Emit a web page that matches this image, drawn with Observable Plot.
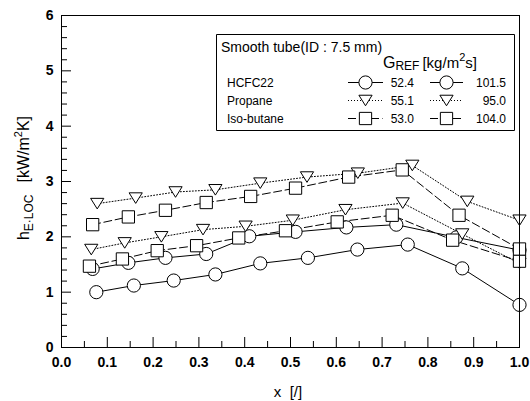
<!DOCTYPE html>
<html><head><meta charset="utf-8">
<script src="https://cdn.jsdelivr.net/npm/d3@7"></script>
<script src="https://cdn.jsdelivr.net/npm/@observablehq/plot@0.6"></script>
<style>
body{margin:0;background:#fff}
#chart{position:relative;width:530px;height:401px}
</style>
</head><body><div id="chart"></div>
<script>
// ---- data ----
const xR22_52  = [0.076,0.158,0.245,0.336,0.434,0.538,0.646,0.756,0.875,1.000];
const yR22_52  = [1.00,1.12,1.21,1.32,1.52,1.62,1.77,1.86,1.43,0.77];
const xR22_101 = [0.068,0.146,0.227,0.316,0.410,0.511,0.622,0.731,0.862,1.000];
const yR22_101 = [1.42,1.53,1.62,1.69,2.01,2.09,2.17,2.22,1.99,1.76];
const xC3_55   = [0.065,0.138,0.218,0.309,0.402,0.505,0.620,0.745,0.875,1.000];
const yC3_55   = [1.77,1.89,2.00,2.13,2.19,2.30,2.49,2.61,2.05,1.52];
const xC3_95   = [0.078,0.162,0.249,0.336,0.434,0.536,0.647,0.766,0.886,1.000];
const yC3_95   = [2.60,2.70,2.81,2.85,2.97,3.08,3.15,3.29,2.64,2.30];
const xIB_53   = [0.061,0.133,0.209,0.295,0.387,0.489,0.602,0.722,0.854,1.000];
const yIB_53   = [1.47,1.60,1.75,1.84,1.98,2.11,2.27,2.39,1.94,1.56];
const xIB_104  = [0.068,0.146,0.227,0.316,0.413,0.511,0.627,0.744,0.868,1.000];
const yIB_104  = [2.22,2.36,2.48,2.62,2.73,2.88,3.08,3.21,2.39,1.78];

const fluids = ["HCFC22","Propane","Iso-butane"];
const gLow  = ["52.4","55.1","53.0"];
const gHigh = ["101.5","95.0","104.0"];

const xTickLabels = [0,0.1,0.2,0.3,0.4,0.5,0.6,0.7,0.8,0.9,1.0];
const xMinor = [0.05,0.15,0.25,0.35,0.45,0.55,0.65,0.75,0.85,0.95];
const yTickLabels = [0,1,2,3,4,5,6];
const yMinor = [0.2,0.4,0.6,0.8,1.2,1.4,1.6,1.8,2.2,2.4,2.6,2.8,3.2,3.4,3.6,3.8,4.2,4.4,4.6,4.8,5.2,5.4,5.6,5.8];

// ---- symbols ----
const symCircle = {draw(ctx,size){const r=Math.sqrt(size/Math.PI); ctx.moveTo(r,0); ctx.arc(0,0,r,0,2*Math.PI);}};
const symSquare = {draw(ctx,size){const r=Math.sqrt(size/Math.PI)*0.93; ctx.moveTo(-r,-r); ctx.lineTo(r,-r); ctx.lineTo(r,r); ctx.lineTo(-r,r); ctx.closePath();}};
const symTri = {draw(ctx,size){const r=Math.sqrt(size/Math.PI); const w=r, h=r*0.8; ctx.moveTo(-w,-h); ctx.lineTo(w,-h); ctx.lineTo(0,h); ctx.closePath();}};

const DOT = "1,2", DASH = "8,3.5";
const series = [
  {xs:xR22_52, ys:yR22_52, sym:symCircle, dash:null},
  {xs:xR22_101,ys:yR22_101,sym:symCircle, dash:null},
  {xs:xC3_55,  ys:yC3_55,  sym:symTri,    dash:DOT},
  {xs:xC3_95,  ys:yC3_95,  sym:symTri,    dash:DOT},
  {xs:xIB_53,  ys:yIB_53,  sym:symSquare, dash:DASH},
  {xs:xIB_104, ys:yIB_104, sym:symSquare, dash:DASH},
];
const pts = s => s.xs.map((x,i)=>({x, y:s.ys[i]}));

const FONT = "'Liberation Sans', Arial, Helvetica, sans-serif";
const marks = [];
series.forEach(s => marks.push(Plot.line(pts(s), {x:"x", y:"y", stroke:"#000", strokeWidth:1, strokeDasharray:s.dash||undefined})));
series.forEach(s => marks.push(Plot.dot(pts(s), {x:"x", y:"y", r:6.6, symbol:s.sym, fill:"#fff", stroke:"#000", strokeWidth:1})));
// inward ticks
marks.push(Plot.ruleX(xTickLabels, {x:d=>d, y1:0, y2:0, insetTop:-10, stroke:"#000"}));
marks.push(Plot.ruleX(xMinor, {x:d=>d, y1:0, y2:0, insetTop:-6, stroke:"#000"}));
marks.push(Plot.ruleY(yTickLabels, {y:d=>d, x1:0, x2:0, insetRight:-10, stroke:"#000"}));
marks.push(Plot.ruleY(yMinor, {y:d=>d, x1:0, x2:0, insetRight:-6, stroke:"#000"}));
marks.push(Plot.frame({stroke:"#000", strokeWidth:1}));
marks.push(Plot.axisX({ticks:xTickLabels, tickFormat:d3.format(".1f"), tickSize:0, tickPadding:10, label:null, fontSize:14, fontWeight:"bold"}));
marks.push(Plot.axisY({ticks:yTickLabels, tickFormat:d3.format("d"), tickSize:0, tickPadding:8, label:null, fontSize:14, fontWeight:"bold"}));

const plot = Plot.plot({
  width:530, height:401,
  marginLeft:61, marginRight:11, marginTop:15, marginBottom:54,
  x:{domain:[0,1]}, y:{domain:[0,6]},
  style:{fontFamily:FONT, fontSize:"13px", color:"#000", background:"#fff"},
  marks
});
document.getElementById("chart").appendChild(plot);

// ---- titles and legend ----
const svg = d3.select(plot);
const g = svg.append("g").attr("font-family", FONT).attr("fill","#000").attr("text-anchor","start");

// x title
g.append("text").attr("x",288).attr("y",397).attr("text-anchor","middle").attr("font-size",15)
  .style("white-space","pre").text("x  [/]");

// y title
const yt = g.append("text").attr("transform","translate(29,178) rotate(-90)").attr("text-anchor","middle").attr("font-size",16);
yt.append("tspan").text("h");
yt.append("tspan").attr("font-size",12).attr("dy",4).text("E\u00B7LOC");
yt.append("tspan").attr("dy",-4).attr("dx",12).text("[kW/m");
yt.append("tspan").attr("font-size",11).attr("dy",-7).text("2");
yt.append("tspan").attr("dy",7).text("K]");

// legend box
g.append("path").attr("d","M216.5,34.5H514.5V130.5H216.5Z").style("fill","#fff").style("stroke","#000").style("stroke-width","1px");
g.append("text").attr("x",221).attr("y",51.5).attr("font-size",14).text("Smooth tube(ID : 7.5 mm)");
const gt = g.append("text").attr("x",383).attr("y",68).attr("font-size",15);
gt.append("tspan").attr("font-size",16).text("G");
gt.append("tspan").attr("font-size",12).attr("dy",2).text("REF");
gt.append("tspan").attr("dy",-2).attr("dx",3).text("[kg/m");
gt.append("tspan").attr("font-size",11).attr("dy",-7).text("2");
gt.append("tspan").attr("dy",7).text("s]");

const rowY = [82.5, 100.5, 118.5];
const legSyms = [symCircle, symTri, symSquare];
const legDash = [null, DOT, DASH];
const col = [{x1:348,x2:383,cx:365.5,tx:414,vals:gLow},{x1:430,x2:463,cx:446.5,tx:506,vals:gHigh}];
fluids.forEach((f,i)=>{
  g.append("text").attr("x",227).attr("y",rowY[i]+4.3).attr("font-size",12).text(f);
  col.forEach(c=>{
    g.append("line").attr("x1",c.x1).attr("x2",c.x2).attr("y1",rowY[i]).attr("y2",rowY[i])
      .attr("stroke","#000").attr("stroke-dasharray",legDash[i]);
    g.append("path").attr("transform",`translate(${c.cx},${rowY[i]})`)
      .attr("d", d3.symbol(legSyms[i], Math.PI*6.6*6.6)()).attr("fill","#fff").attr("stroke","#000");
    g.append("text").attr("x",c.tx).attr("y",rowY[i]+4.3).attr("font-size",12).attr("text-anchor","end").text(c.vals[i]);
  });
});
</script></body></html>
